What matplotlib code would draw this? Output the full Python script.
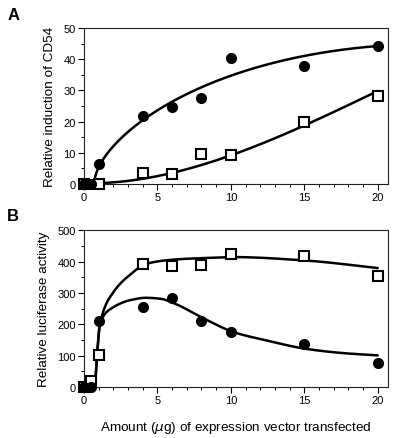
import numpy as np
import matplotlib
matplotlib.use("Agg")
import matplotlib.pyplot as plt
from matplotlib.ticker import MultipleLocator

plt.rcParams['font.family'] = ['Liberation Sans', 'DejaVu Sans']

# ---- data ----
dose = [0, 0.5, 1, 4, 6, 8, 10, 15, 20]

# Panel A: relative induction of CD54
a_circle = [0, 0, 6.4, 21.8, 24.8, 27.6, 40.3, 37.8, 44.3]
a_square_x = [0, 1, 4, 6, 8, 10, 15, 20]
a_square = [0, 0, 3.6, 3.3, 9.7, 9.2, 19.9, 28.1]

# Panel B: relative luciferase activity
b_circle = [0, 0, 210, 255, 284, 211, 175, 138, 78]
b_square = [0, 19, 101, 394, 386, 391, 425, 420, 356]

# fitted curves (anchor values)
fa_circ_x = [0.7, 1.05, 2.0, 4.0, 6.2, 8.2, 10.1, 15.0, 20.0]
fa_circ_y = [0, 6.1, 11.5, 21.6, 26.0, 31.3, 35.0, 41.3, 44.1]
fa_sq_x = [1.2, 4.2, 6.3, 8.2, 10.1, 15.2, 20.0]
fa_sq_y = [0, 2.7, 3.5, 6.2, 9.1, 19.5, 29.7]
fb_circ_x = [0.75, 0.9, 1.1, 2.0, 3.2, 4.2, 5.2, 6.1, 8.2, 10.2, 12.4, 15.1, 17.7, 20.0]
fb_circ_y = [0, 110, 205, 255, 278, 285, 282, 268, 218, 175, 149, 122, 108, 101]
fb_sq_x = [0.75, 0.9, 1.1, 2.0, 3.2, 4.2, 6.1, 8.2, 10.2, 15.1, 20.0]
fb_sq_y = [0, 110, 205, 303, 361, 393, 407, 412, 415, 404, 380]


def pchip(x, y, xn):
    x = np.asarray(x, float); y = np.asarray(y, float)
    h = np.diff(x); d = np.diff(y) / h
    n = len(x); m = np.zeros(n)
    for k in range(1, n - 1):
        if d[k - 1] * d[k] > 0:
            w1 = 2 * h[k] + h[k - 1]; w2 = h[k] + 2 * h[k - 1]
            m[k] = (w1 + w2) / (w1 / d[k - 1] + w2 / d[k])
    m[0] = d[0]; m[-1] = d[-1]
    idx = np.clip(np.searchsorted(x, xn) - 1, 0, n - 2)
    t = (xn - x[idx]) / h[idx]
    h00 = 2 * t**3 - 3 * t**2 + 1; h10 = t**3 - 2 * t**2 + t
    h01 = -2 * t**3 + 3 * t**2; h11 = t**3 - t**2
    return h00 * y[idx] + h10 * h[idx] * m[idx] + h01 * y[idx + 1] + h11 * h[idx] * m[idx + 1]


def draw(ax, xn, yn):
    ax.plot(xn, yn, color='black', lw=1.8, zorder=2, solid_capstyle='round')


def curve_poly(ax, xs, ys, deg, power=0.5):
    xs = np.asarray(xs, float); ys = np.asarray(ys, float)
    s = (xs - xs[0]) ** power
    coef = np.polyfit(s, ys, deg)
    xn = np.linspace(xs[0], xs[-1], 500)
    draw(ax, xn, np.polyval(coef, (xn - xs[0]) ** power))


def curve_pchip(ax, xs, ys):
    xn = np.linspace(xs[0], xs[-1], 500)
    draw(ax, xn, pchip(xs, ys, xn))


fig = plt.figure(figsize=(4.0, 4.39), dpi=100)
axA = fig.add_axes([0.21, 0.5786, 0.76, 0.3554])
axB = fig.add_axes([0.21, 0.1162, 0.76, 0.3565])

msq = dict(marker='s', ms=6.5, mfc='white', mec='black', mew=1.5, ls='none', zorder=3)
mci = dict(marker='o', ms=7, mfc='black', mec='black', ls='none', zorder=4)

curve_poly(axA, fa_circ_x, fa_circ_y, 3)
curve_poly(axA, fa_sq_x, fa_sq_y, 3, power=1.0)
axA.plot(a_square_x, a_square, **msq)
axA.plot(dose, a_circle, **mci)

curve_pchip(axB, fb_circ_x, fb_circ_y)
curve_pchip(axB, fb_sq_x, fb_sq_y)
axB.plot(dose, b_circle, **mci)
axB.plot(dose, b_square, **msq)

for ax, ymax, ymaj, ymin in [(axA, 50, 10, 5), (axB, 500, 100, 50)]:
    ax.set_xlim(0, 20.7)
    ax.set_ylim(0, ymax)
    ax.set_xticks([0, 5, 10, 15, 20])
    ax.xaxis.set_minor_locator(MultipleLocator(1))
    ax.yaxis.set_major_locator(MultipleLocator(ymaj))
    ax.yaxis.set_minor_locator(MultipleLocator(ymin))
    ax.tick_params(which='major', length=4, width=0.8, labelsize=8, pad=2)
    ax.tick_params(which='minor', length=2.5, width=0.7)
    for s in ax.spines.values():
        s.set_linewidth(0.8)
        s.set_color('#222222')
    for art in ax.lines:
        art.set_clip_on(False)

axA.set_ylabel('Relative induction of CD54', fontsize=9.7, labelpad=5)
axB.set_ylabel('Relative luciferase activity', fontsize=9.7, labelpad=5)
axB.set_xlabel('Amount ($\\mu$g) of expression vector transfected', fontsize=9.7, labelpad=10)

fig.text(0.018, 0.965, 'A', fontsize=12, fontweight='bold', va='center', ha='left')
fig.text(0.018, 0.507, 'B', fontsize=12, fontweight='bold', va='center', ha='left')

fig.savefig('out.png', dpi=100)
